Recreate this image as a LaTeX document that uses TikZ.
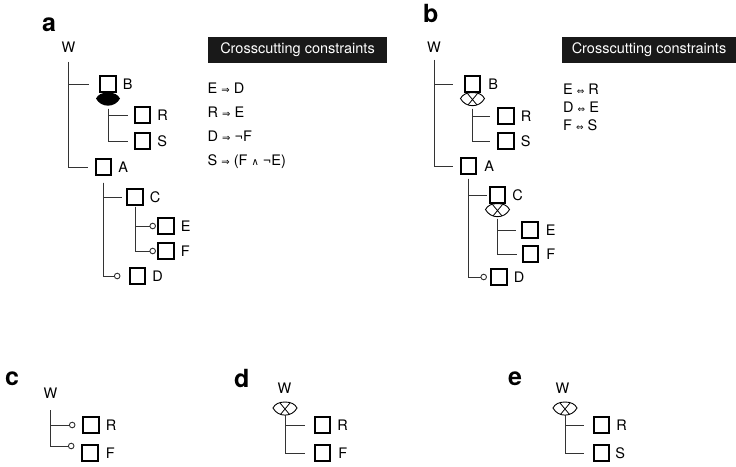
\documentclass[tikz,border=0pt]{standalone}
\usepackage{fontspec}
\setmainfont{TeX Gyre Heros}
\newfontfamily\arrfont{DejaVu Sans}
\usetikzlibrary{arrows.meta,positioning,backgrounds}

\newcommand\reqs{{\arrfont\fontsize{10}{10}\selectfont ⇒}}
\newcommand\excl{{\arrfont\fontsize{9}{9}\selectfont ⇔}}
\newcommand\andc{{\arrfont\fontsize{10}{10}\selectfont ∧}}

\tikzset{
  feat/.style={draw=black,line width=1.6pt,fill=white,minimum size=15.5pt,inner sep=0pt},
  flab/.style={anchor=west,inner sep=0pt,text height=10.5pt,text depth=0pt},
  wlab/.style={inner sep=0pt,text height=10.5pt,text depth=0pt},
  panlab/.style={anchor=base west,inner sep=0pt,font=\fontsize{25}{25}\selectfont\bfseries},
  ccbox/.style={fill=black!90,text=white,minimum height=26pt,inner sep=0pt},
  treeline/.style={line width=0.9pt,draw=black!80,shorten >=7pt},
  optline/.style={treeline,-{Circle[open,length=6.5pt,line width=0.9pt]}},
  orgrp/.pic={
    \fill[black] (0,0) .. controls (-6,0) and (-10,2) .. (-12,6)
      .. controls (-7,15.5) and (7,15.5) .. (12,6)
      .. controls (10,2) and (6,0) .. (0,0) -- cycle;
    \coordinate (-bot) at (0,13);
  },
  altgrp/.pic={
    \fill[white] (0,0) .. controls (-6,0) and (-10,2) .. (-12,6)
      .. controls (-7,15.5) and (7,15.5) .. (12,6)
      .. controls (10,2) and (6,0) .. (0,0) -- cycle;
    \begin{scope}
      \clip (0,0) .. controls (-6,0) and (-10,2) .. (-12,6)
        .. controls (-7,15.5) and (7,15.5) .. (12,6)
        .. controls (10,2) and (6,0) .. (0,0) -- cycle;
      \draw[line width=0.8pt] (-5,1) -- (5,13) (5,1) -- (-5,13);
    \end{scope}
    \draw[line width=0.9pt] (0,0) .. controls (-6,0) and (-10,2) .. (-12,6)
      .. controls (-7,15.5) and (7,15.5) .. (12,6)
      .. controls (10,2) and (6,0) .. (0,0) -- cycle;
    \coordinate (-bot) at (0,13);
  }
}

\begin{document}
\begin{tikzpicture}[x=1pt,y=-1pt,font=\fontsize{14.5}{17}\selectfont]
\useasboundingbox (0,0) rectangle (736,466);

% panel letters
\node[panlab] (la) at (42,31) {a};
\node[panlab] (lb) at (423,22) {b};
\node[panlab] (lc) at (5,385) {c};
\node[panlab] (ld) at (234,387) {d};
\node[panlab] (le) at (508,385) {e};

% (a) feature tree
\node[wlab] (Wa) at (68.5,47.5) {W};
\node[feat] (Ba) at (108,84) {};
\node[flab,right=6pt of Ba] (Bla) {B};
\node[feat] (Ra) at (142.5,115) {};
\node[flab,right=6pt of Ra] (Rla) {R};
\node[feat] (Sa) at (142.5,141) {};
\node[flab,right=6pt of Sa] (Sla) {S};
\node[feat] (Aa) at (103.5,167) {};
\node[flab,right=6pt of Aa] (Ala) {A};
\node[feat] (Ca) at (135,197) {};
\node[flab,right=6pt of Ca] (Cla) {C};
\node[feat] (Ea) at (166,226) {};
\node[flab,right=6pt of Ea] (Ela) {E};
\node[feat] (Fa) at (166,251) {};
\node[flab,right=6pt of Fa] (Fla) {F};
\node[feat] (Da) at (137.5,276) {};
\node[flab,right=6pt of Da] (Dla) {D};
\begin{scope}[on background layer]
  \pic (gBa) at (Ba.south) {orgrp};
\end{scope}
\draw[treeline,shorten <=9pt,shorten >=10pt] (Wa.south) |- (Ba.west);
\draw[treeline,shorten <=9pt] (Wa.south) |- (Aa.west);
\draw[treeline,shorten <=3pt,shorten >=6pt] (gBa-bot) |- (Ra.west);
\draw[treeline,shorten <=3pt,shorten >=6pt] (gBa-bot) |- (Sa.west);
\draw[treeline,shorten <=7pt,shorten >=4pt] (Aa.south) |- (Ca.west);
\draw[optline,shorten <=7pt,shorten >=8.5pt] (Aa.south) |- (Da.west);
\draw[optline,shorten <=1pt,shorten >=1.5pt] (Ca.south) |- (Ea.west);
\draw[optline,shorten <=1pt,shorten >=1.5pt] (Ca.south) |- (Fa.west);

% (a) constraints
\node[ccbox,minimum width=179pt] (cca) at (297.5,50) {Crosscutting constraints};
\node[flab] (ka1) at (207.5,88) {E \reqs{} D};
\node[flab] (ka2) at (207.5,112) {R \reqs{} E};
\node[flab] (ka3) at (207.5,136) {D \reqs{} ¬F};
\node[flab] (ka4) at (207.5,160) {S \reqs{} (F \andc{} ¬E)};

% (b) feature tree
\node[wlab] (Wb) at (434,47.5) {W};
\node[feat] (Bb) at (472.5,84) {};
\node[flab,right=7pt of Bb] (Blb) {B};
\node[feat] (Rb) at (506,116) {};
\node[flab,right=6pt of Rb] (Rlb) {R};
\node[feat] (Sb) at (506,141) {};
\node[flab,right=6pt of Sb] (Slb) {S};
\node[feat] (Ab) at (468.5,166) {};
\node[flab,right=7pt of Ab] (Alb) {A};
\node[feat] (Cb) at (497.5,195) {};
\node[flab,right=6pt of Cb] (Clb) {C};
\node[feat] (Eb) at (530,230) {};
\node[flab,right=7pt of Eb] (Elb) {E};
\node[feat] (Fb) at (530.5,254) {};
\node[flab,right=7pt of Fb] (Flb) {F};
\node[feat] (Db) at (499,277) {};
\node[flab,right=6pt of Db] (Dlb) {D};
\begin{scope}[on background layer]
  \pic (gBb) at (Bb.south) {altgrp};
  \pic (gCb) at (Cb.south) {altgrp};
\end{scope}
\draw[treeline,shorten <=7pt,shorten >=11pt] (Wb.south) |- (Bb.west);
\draw[treeline,shorten <=7pt] (Wb.south) |- (Ab.west);
\draw[treeline,shorten <=3pt] (gBb-bot) |- (Rb.west);
\draw[treeline,shorten <=3pt] (gBb-bot) |- (Sb.west);
\draw[treeline,shorten <=4pt,shorten >=2pt] (Ab.south) |- (Cb.west);
\draw[optline,shorten <=4pt,shorten >=3.5pt] (Ab.south) |- (Db.west);
\draw[treeline,shorten <=2pt,shorten >=5pt] (gCb-bot) |- (Eb.west);
\draw[treeline,shorten <=2pt,shorten >=5pt] (gCb-bot) |- (Fb.west);

% (b) constraints
\node[ccbox,minimum width=174pt] (ccb) at (649,50) {Crosscutting constraints};
\node[flab] (kb1) at (563,89) {E \excl{} R};
\node[flab] (kb2) at (563,107) {D \excl{} E};
\node[flab] (kb3) at (563,125) {F \excl{} S};

% (c)
\node[wlab] (Wc) at (50.5,393) {W};
\node[feat] (Rc) at (91,425) {};
\node[flab,right=6pt of Rc] (Rlc) {R};
\node[feat] (Fc) at (90,453) {};
\node[flab,right=7pt of Fc] (Flc) {F};
\draw[optline,shorten <=12pt] (Wc.south) |- (Rc.west);
\draw[optline,shorten <=12pt] (Wc.south) |- ([yshift=7pt]Fc.west);

% (d)
\node[wlab] (Wd) at (284.5,388) {W};
\node[feat] (Rd) at (322.5,425) {};
\node[flab,right=6pt of Rd] (Rld) {R};
\node[feat] (Fd) at (322.5,453) {};
\node[flab,right=7pt of Fd] (Fld) {F};
\pic (gd) at (285,402) {altgrp};
\draw[treeline,shorten >=9pt] (gd-bot) |- (Rd.west);
\draw[treeline,shorten >=9pt] (gd-bot) |- (Fd.west);

% (e)
\node[wlab] (We) at (562.5,388) {W};
\node[feat] (Re) at (601.5,425) {};
\node[flab,right=6pt of Re] (Rle) {R};
\node[feat] (Se) at (601.5,453) {};
\node[flab,right=5pt of Se] (Sle) {S};
\pic (ge) at (565,402) {altgrp};
\draw[treeline,shorten >=9pt] (ge-bot) |- (Re.west);
\draw[treeline,shorten >=9pt] (ge-bot) |- (Se.west);
\end{tikzpicture}
\end{document}
